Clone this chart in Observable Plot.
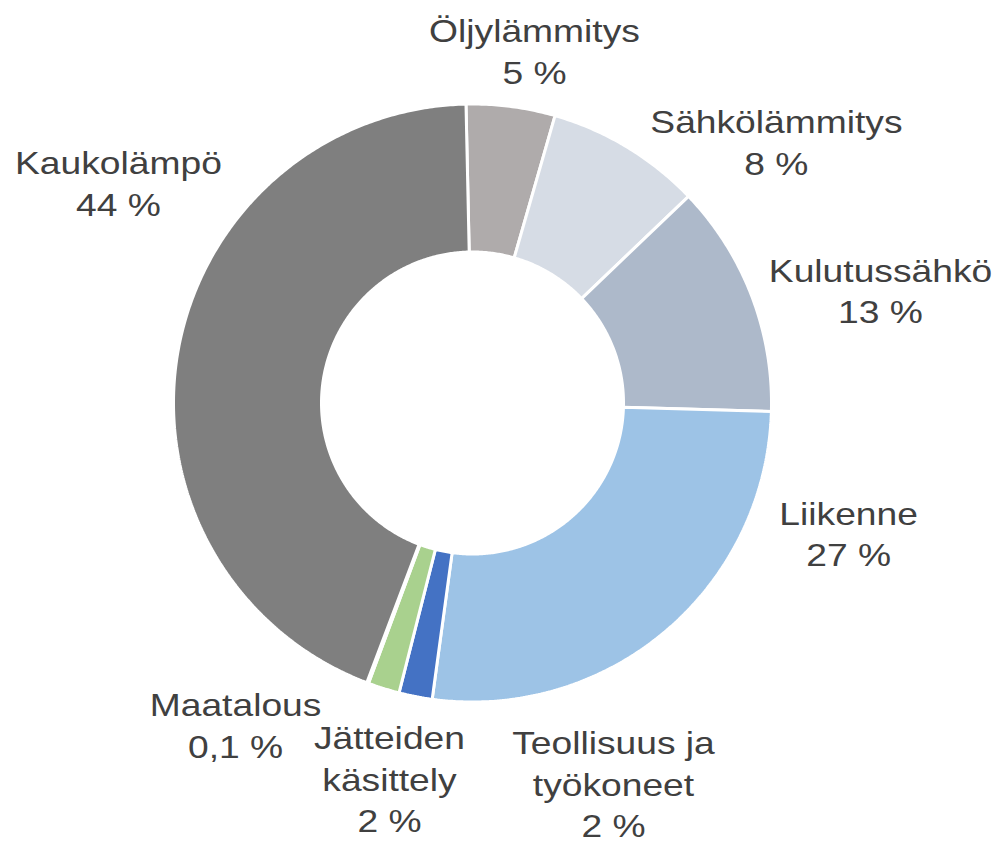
<!DOCTYPE html>
<html>
<head>
<meta charset="utf-8">
<script src="https://cdn.jsdelivr.net/npm/d3@7"></script>
<script src="https://cdn.jsdelivr.net/npm/@observablehq/plot@0.6"></script>
<style>
  html, body { margin: 0; padding: 0; background: #ffffff; }
  #chart { width: 997px; height: 842px; }
</style>
</head>
<body>
<div id="chart"></div>
<script>
// ---- data (clockwise from 12 o'clock) ----
const categories = ["Öljylämmitys", "Sähkölämmitys", "Kulutussähkö", "Liikenne",
  "Teollisuus ja\ntyökoneet", "Jätteiden\nkäsittely", "Maatalous", "Kaukolämpö"];
const shares = [4.8, 8.4, 12.6, 26.7, 1.8, 1.7, 0.1, 43.9];
const shareLabels = ["5 %", "8 %", "13 %", "27 %", "2 %", "2 %", "0,1 %", "44 %"];
const sliceColors = ["#afabab", "#d6dce5", "#adb9ca", "#9dc3e6", "#4472c4", "#a9d18e", "#ffc000", "#7f7f7f"];

// ---- layout ----
const W = 997, H = 842;
const cx = 472.5, cy = 403;
const rOuter = 299, rInner = 151;
const startDeg = -1.25;
// label placement: [angle from 12 o'clock (deg), distance from centre]
const labelPolar = [[9.86, 359], [49.1, 401.4], [74.3, 423.3], [108.9, 397], [159.65, 404], [192.6, 383], [216.55, 398.7], [302.0, 418.1]];

const total = d3.sum(shares);
const rad = (deg) => deg * Math.PI / 180;
const px = (a, r) => cx + r * Math.sin(a);
const py = (a, r) => cy - r * Math.cos(a);

// build arc samples for each slice
const arcRows = [];
let acc = rad(startDeg);
categories.forEach((name, i) => {
  const a0 = acc;
  const a1 = acc + shares[i] / total * 2 * Math.PI;
  acc = a1;
  const n = Math.max(2, Math.ceil((a1 - a0) / rad(0.5)) + 1);
  for (let k = 0; k < n; k++) {
    const a = a0 + (a1 - a0) * k / (n - 1);
    arcRows.push({name, x1: px(a, rInner), y1: py(a, rInner), x2: px(a, rOuter), y2: py(a, rOuter)});
  }
});

const labelRows = categories.map((name, i) => {
  const [deg, r] = labelPolar[i];
  return {name, text: name + "\n" + shareLabels[i], x: px(rad(deg), r), y: py(rad(deg), r)};
});

const chart = Plot.plot({
  width: W,
  height: H,
  margin: 0,
  x: {domain: [0, W], range: [0, W], axis: null},
  y: {domain: [0, H], range: [0, H], axis: null},
  color: {domain: categories, range: sliceColors},
  style: {background: "#ffffff", overflow: "visible"},
  marks: [
    Plot.area(arcRows, {
      x1: "x1", y1: "y1", x2: "x2", y2: "y2",
      z: "name", fill: "name",
      stroke: "#ffffff", strokeWidth: 3, strokeLinejoin: "miter"
    }),
    Plot.text(labelRows, {
      x: "x", y: "y", text: "text",
      textAnchor: "middle", lineAnchor: "middle", lineHeight: 1.335,
      fontSize: 31, fontFamily: "Liberation Sans, Arial, sans-serif",
      fill: "#404040"
    })
  ]
});

// widen the label glyphs horizontally, as in the reference
chart.querySelectorAll("text").forEach((t) => {
  if (!t.textContent) return;
  const tr = t.getAttribute("transform");
  if (tr) {
    t.setAttribute("transform", tr + " scale(1.2,1)");
  } else {
    const x = +t.getAttribute("x") || 0, y = +t.getAttribute("y") || 0;
    t.removeAttribute("x"); t.removeAttribute("y");
    t.setAttribute("transform", `translate(${x},${y}) scale(1.2,1)`);
  }
});

document.getElementById("chart").appendChild(chart);
</script>
</body>
</html>
